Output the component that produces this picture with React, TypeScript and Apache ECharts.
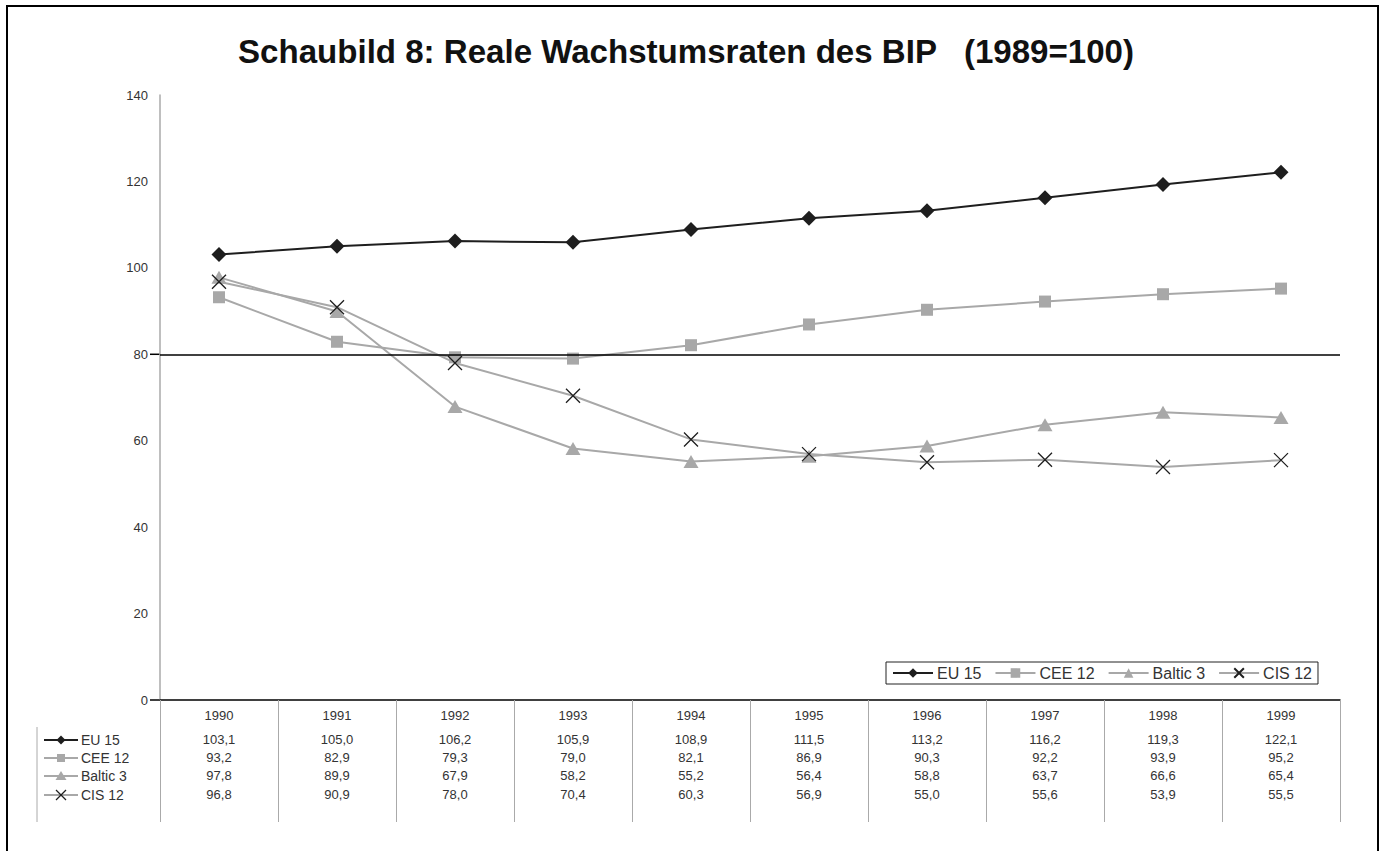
import React, { useEffect, useRef } from "react";
import * as echarts from "echarts";

const years = ["1990", "1991", "1992", "1993", "1994", "1995", "1996", "1997", "1998", "1999"];
const eu15 = [103.1, 105.0, 106.2, 105.9, 108.9, 111.5, 113.2, 116.2, 119.3, 122.1];
const cee12 = [93.2, 82.9, 79.3, 79.0, 82.1, 86.9, 90.3, 92.2, 93.9, 95.2];
const baltic3 = [97.8, 89.9, 67.9, 58.2, 55.2, 56.4, 58.8, 63.7, 66.6, 65.4];
const cis12 = [96.8, 90.9, 78.0, 70.4, 60.3, 56.9, 55.0, 55.6, 53.9, 55.5];
const seriesNames = ["EU 15", "CEE 12", "Baltic 3", "CIS 12"];
const yTicks = [0, 20, 40, 60, 80, 100, 120, 140];
const refLine = 80;
const title = "Schaubild 8: Reale Wachstumsraten des BIP   (1989=100)";

const BLACK = "#1e1e1e";
const GRAY = "#a8a8a8";
const CROSS = "path://M0,0L10,10M10,0L0,10";
const FONT = "Liberation Sans, Arial, sans-serif";

const fmt = (v: number) => v.toFixed(1).replace(".", ",");

export default function App() {
  const ref = useRef<HTMLDivElement>(null);
  useEffect(() => {
    if (!ref.current) return;
    const chart = echarts.init(ref.current, undefined, { renderer: "svg" });
    const allData = [eu15, cee12, baltic3, cis12];
    const rowOffsets = [24, 42, 60, 79];
    const tableAxes = allData.map((arr, i) => ({
      type: "category",
      gridIndex: 0,
      position: "bottom",
      offset: rowOffsets[i],
      data: arr.map(fmt),
      axisLine: { show: false },
      axisTick: { show: false },
      axisLabel: { margin: 9, fontSize: 13, color: "#333", fontFamily: FONT },
    }));
    const base = {
      type: "line",
      xAxisIndex: 0,
      yAxisIndex: 0,
      symbolKeepAspect: true,
    };
    chart.setOption({
      animation: false,
      backgroundColor: "#fff",
      legend: {
        data: seriesNames,
        left: 886,
        top: 662,
        orient: "horizontal",
        itemGap: 13,
        itemWidth: 40,
        itemHeight: 12,
        padding: [3, 6, 3, 6],
        borderColor: "#222",
        borderWidth: 1,
        textStyle: { fontSize: 16, color: "#333", fontFamily: FONT, padding: [0, 0, 0, -1] },
      },
      grid: { left: 160, right: 42, top: 95, bottom: 151 },
      xAxis: [
        {
          type: "category",
          data: years,
          boundaryGap: true,
          position: "bottom",
          axisLine: { show: true, onZero: false, lineStyle: { color: "#000", width: 1.5 } },
          axisTick: { show: true, length: 122, interval: 0, lineStyle: { color: "#aaa", width: 1 } },
          axisLabel: { margin: 9, fontSize: 13, color: "#333", fontFamily: FONT },
        },
        ...tableAxes,
      ],
      yAxis: {
        type: "value",
        min: 0,
        max: 140,
        interval: 20,
        axisLine: { show: true, lineStyle: { color: "#aaa", width: 1.5 } },
        axisTick: { show: false },
        splitLine: { show: false },
        axisLabel: {
          margin: 12,
          fontSize: 13,
          color: "#333",
          fontFamily: FONT,
          formatter: (v: number) => (yTicks.includes(v) ? String(v) : ""),
        },
      },
      series: [
        {
          ...base,
          name: seriesNames[0],
          data: eu15,
          symbol: "diamond",
          symbolSize: [15, 15],
          lineStyle: { color: BLACK, width: 2 },
          itemStyle: { color: BLACK },
          z: 5,
          markLine: {
            silent: true,
            symbol: "none",
            label: { show: false },
            lineStyle: { color: "#000", width: 1.5, type: "solid" },
            data: [{ yAxis: refLine }],
          },
        },
        {
          ...base,
          name: seriesNames[1],
          data: cee12,
          symbol: "rect",
          symbolSize: 12,
          lineStyle: { color: GRAY, width: 2 },
          itemStyle: { color: GRAY },
          z: 3,
        },
        {
          ...base,
          name: seriesNames[2],
          data: baltic3,
          symbol: "triangle",
          symbolSize: [15, 13],
          lineStyle: { color: GRAY, width: 2 },
          itemStyle: { color: GRAY },
          z: 3,
        },
        {
          ...base,
          name: seriesNames[3],
          data: cis12,
          symbol: CROSS,
          symbolSize: 14,
          lineStyle: { color: GRAY, width: 2 },
          itemStyle: { color: "none", borderColor: BLACK, borderWidth: 1.3 },
          z: 4,
        },
      ],
    });

    // title: condensed bold, measured to span the reference width
    const titleSize = 34;
    const titleFont = `bold ${titleSize}px Liberation Sans, Arial, sans-serif`;
    let scaleX = 0.85;
    try {
      const ctx = document.createElement("canvas").getContext("2d");
      if (ctx) {
        ctx.font = titleFont;
        const w = ctx.measureText(title).width;
        if (w > 0) scaleX = 897 / w;
      }
    } catch (e) {
      /* keep default */
    }

    const xStart = 160;
    const y80 = chart.convertToPixel({ yAxisIndex: 0 }, refLine) as number;
    const y0 = chart.convertToPixel({ yAxisIndex: 0 }, 0) as number;
    const rowY = [740, 758, 776, 795];
    const iconGraphics: any[] = [];
    const lx1 = 44, lx2 = 78, mx = 61;
    rowY.forEach((y, i) => {
      const color = i === 0 ? BLACK : GRAY;
      iconGraphics.push({ type: "line", shape: { x1: lx1, y1: y, x2: lx2, y2: y }, style: { stroke: color, lineWidth: 2 } });
      if (i === 0) {
        iconGraphics.push({ type: "polygon", shape: { points: [[mx, y - 4.5], [mx + 4.5, y], [mx, y + 4.5], [mx - 4.5, y]] }, style: { fill: BLACK } });
      } else if (i === 1) {
        iconGraphics.push({ type: "rect", shape: { x: mx - 4, y: y - 4, width: 8, height: 8 }, style: { fill: GRAY } });
      } else if (i === 2) {
        iconGraphics.push({ type: "polygon", shape: { points: [[mx, y - 5], [mx + 5.5, y + 4], [mx - 5.5, y + 4]] }, style: { fill: GRAY } });
      } else {
        iconGraphics.push({ type: "line", shape: { x1: mx - 5, y1: y - 5, x2: mx + 5, y2: y + 5 }, style: { stroke: BLACK, lineWidth: 1.3 } });
        iconGraphics.push({ type: "line", shape: { x1: mx + 5, y1: y - 5, x2: mx - 5, y2: y + 5 }, style: { stroke: BLACK, lineWidth: 1.3 } });
      }
      iconGraphics.push({
        type: "text",
        x: 81,
        y,
        style: { text: seriesNames[i], fontSize: 14, fill: "#333", fontFamily: FONT, verticalAlign: "middle", align: "left" },
      });
    });
    chart.setOption({
      graphic: [
        { type: "rect", shape: { x: 7, y: 6, width: 1371, height: 880 }, style: { fill: "none", stroke: "#000", lineWidth: 2 }, z: 100 },
        {
          type: "text",
          x: 686,
          y: 51,
          scaleX,
          scaleY: 1,
          style: {
            text: title,
            fontSize: titleSize,
            fontWeight: "bold",
            fontFamily: FONT,
            fill: "#111",
            align: "center",
            verticalAlign: "middle",
          },
        },
        { type: "line", shape: { x1: xStart - 10, y1: y80, x2: xStart, y2: y80 }, style: { stroke: "#000", lineWidth: 1.5 } },
        { type: "line", shape: { x1: xStart - 10, y1: y0, x2: xStart, y2: y0 }, style: { stroke: "#000", lineWidth: 1.5 } },
        { type: "line", shape: { x1: 37, y1: 727, x2: 37, y2: 822 }, style: { stroke: "#aaa", lineWidth: 1 } },
        ...iconGraphics,
      ],
    });
    return () => chart.dispose();
  }, []);
  return (
    <div
      ref={ref}
      style={{ position: "fixed", left: 0, top: 0, width: 1382, height: 851, background: "#fff" }}
    />
  );
}
